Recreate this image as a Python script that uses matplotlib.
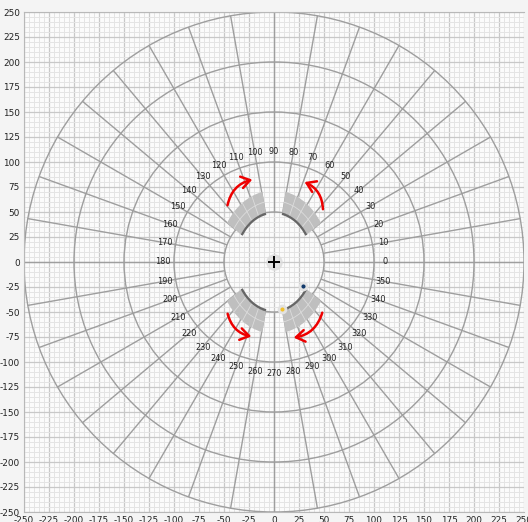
import numpy as np
import matplotlib.pyplot as plt
from matplotlib.patches import Circle, Wedge, FancyArrowPatch, Arc
from matplotlib.transforms import Affine2D

plt.rcParams['axes.unicode_minus'] = False

# ring radii and spoke angles of the polar overlay
circle_radii = [50, 100, 150, 200, 250]
spoke_angles = list(range(0, 360, 10))
spoke_r0, spoke_r1 = 50, 250
label_radius = 111

# four gray segments (angles in degrees, before vertical stretch)
seg_theta1 = [33, 102, 213, 282]
seg_theta2 = [78, 147, 258, 327]
seg_r_inner = 39.5
seg_r_outer = 56
seg_track_r = 38.5
y_stretch = 1.28
n_cells = 4

# red rotation arrows: start, end, curvature
arrow_start = [(-47, 54), (49, 50), (-47, -49), (49, -48)]
arrow_end = [(-19, 83), (28, 81), (-20, -75), (17, -76)]
arrow_rad = [-0.35, 0.35, 0.35, -0.35]

# markers
dot_x = [29, 8]
dot_y = [-24, -47]
dot_colors = ['#123a6b', '#f2c12e']

ticks = list(range(-250, 251, 25))

fig = plt.figure(figsize=(5.28, 5.22), dpi=100, facecolor='#f4f4f4')
ax = fig.add_axes([24/528, 10/522, 500/528, 500/522])
ax.set_xlim(-250, 250)
ax.set_ylim(-250, 250)
ax.set_facecolor('#fbfbfb')

ax.set_xticks(ticks)
ax.set_yticks(ticks)
ax.set_xticks(np.arange(-250, 251, 5), minor=True)
ax.set_yticks(np.arange(-250, 251, 5), minor=True)
ax.grid(which='major', color='#c8c8c8', lw=0.9)
ax.grid(which='minor', color='#e4e4e4', lw=0.7)
ax.set_axisbelow(True)
ax.tick_params(which='both', length=0, labelsize=6.4, pad=3, colors='#222222')
for side in ['top', 'left', 'bottom']:
    ax.spines[side].set_color('#b8b8b8')
ax.spines['right'].set_visible(False)

# rings
for r in circle_radii:
    ax.add_patch(Circle((0, 0), r, fill=False, ec='#9e9e9e', lw=1.0, zorder=2))

# spokes + angle labels
for a in spoke_angles:
    c, s = np.cos(np.radians(a)), np.sin(np.radians(a))
    ax.plot([spoke_r0 * c, spoke_r1 * c], [spoke_r0 * s, spoke_r1 * s],
            color='#9e9e9e', lw=1.0, zorder=2, solid_capstyle='butt')
    ax.text(label_radius * c, label_radius * s, str(a), ha='center', va='center',
            fontsize=5.9, color='#222222', zorder=5)

# stretched segments
stretch = Affine2D().scale(1, y_stretch) + ax.transData
r_mid = (seg_r_inner + seg_r_outer) / 2
for t1, t2 in zip(seg_theta1, seg_theta2):
    ax.add_patch(Wedge((0, 0), seg_r_outer, t1, t2, width=seg_r_outer - seg_r_inner,
                       transform=stretch, fc='#bfbfbf', ec='none', zorder=3))
    # thin light dividers inside the segment
    for t in np.linspace(t1, t2, n_cells + 1)[1:-1]:
        c, s = np.cos(np.radians(t)), np.sin(np.radians(t))
        ax.plot([seg_r_inner * c, seg_r_outer * c], [seg_r_inner * s, seg_r_outer * s],
                transform=stretch, color='#dcdcdc', lw=0.6, zorder=3)
    ax.add_patch(Arc((0, 0), 2 * r_mid, 2 * r_mid, theta1=t1, theta2=t2,
                     transform=stretch, color='#dcdcdc', lw=0.6, zorder=3))
    ax.add_patch(Arc((0, 0), 2 * seg_track_r, 2 * seg_track_r, theta1=t1, theta2=t2,
                     transform=stretch, color='#666666', lw=1.7, zorder=4))

# arrows
for p0, p1, rad in zip(arrow_start, arrow_end, arrow_rad):
    ax.add_patch(FancyArrowPatch(p0, p1, connectionstyle=f'arc3,rad={rad}',
                                 arrowstyle='->,head_length=0.45,head_width=0.3',
                                 mutation_scale=14, color='#ee0000', lw=1.8, zorder=6))

# dots and centre
for x, y, col in zip(dot_x, dot_y, dot_colors):
    ax.plot(x, y, 'o', ms=5, mfc=col, mec='#e2e2e2', mew=2, zorder=7)
ax.plot(0, 0, 'o', ms=11, color='#dcdcdc', alpha=0.7, zorder=7)
ax.plot(0, 0, '+', ms=9, color='black', mew=1.4, zorder=8)

fig.savefig('out.png', dpi=100, facecolor=fig.get_facecolor())
